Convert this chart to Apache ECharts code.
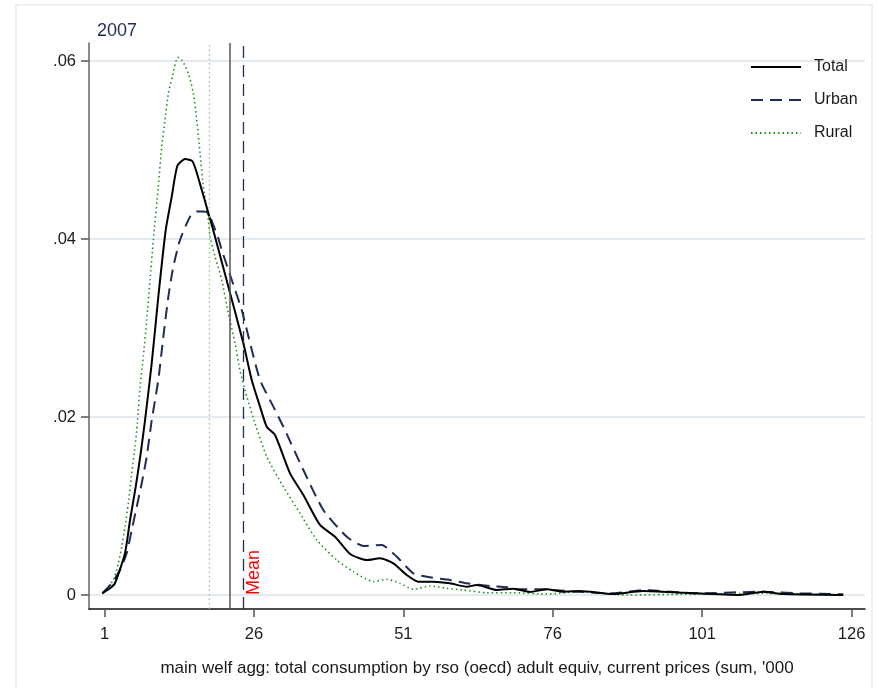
<!DOCTYPE html>
<html>
<head>
<meta charset="utf-8">
<script src="https://cdn.jsdelivr.net/npm/echarts@6/dist/echarts.min.js"></script>
<style>
  html, body { margin: 0; padding: 0; background: #fff; }
  #chart { width: 877px; height: 688px; }
</style>
</head>
<body>
<div id="chart"></div>
<script>
const xTicks = [1, 26, 51, 76, 101, 126]
const yTicks = [0, 0.02, 0.04, 0.06]
const seriesNames = ['Total', 'Urban', 'Rural']

const xTotal = [0.63, 1.92, 2.76, 4.43, 5.27, 6.22, 7.06, 7.78, 8.90, 10.0, 11.24, 12.24, 13.18, 14.47, 15.76, 17.27, 18.37, 19.49, 21.72, 24.23, 25.63, 27.02, 28.14, 29.53, 32.04, 34.27, 37.06, 39.57, 42.08, 44.88, 47.10, 49.33, 51.57, 53.51, 56.02, 58.81, 61.61, 63.28, 66.63, 69.36, 72.2, 75.0, 77.77, 80.57, 86.09, 91.11, 97.8, 107.3, 111.2, 114.5, 124.6]
const yTotal = [0.00019, 0.00075, 0.00135, 0.00472, 0.00843, 0.01217, 0.01596, 0.01966, 0.02607, 0.03352, 0.04101, 0.04475, 0.0482, 0.04899, 0.04869, 0.04551, 0.04292, 0.04026, 0.03464, 0.02828, 0.02416, 0.02116, 0.01891, 0.01798, 0.01367, 0.01124, 0.00787, 0.00655, 0.00461, 0.00393, 0.00412, 0.00356, 0.00225, 0.0015, 0.0015, 0.00131, 0.00093, 0.00112, 0.00056, 0.00071, 0.00034, 0.00064, 0.00037, 0.00045, 0.00011, 0.00045, 0.00026, 0, 0.00037, 0.00011, 0]

const xUrban = [0.63, 2.20, 3.59, 4.71, 5.55, 6.39, 7.22, 8.06, 8.90, 10.0, 10.84, 11.68, 12.51, 13.63, 15.31, 16.43, 17.53, 18.37, 19.21, 20.04, 20.61, 22.29, 23.96, 25.35, 27.02, 29.25, 30.92, 34.27, 37.61, 41.53, 44.31, 47.39, 49.90, 52.67, 55.47, 58.81, 61.61, 65.51, 68.30, 70.53, 73.87, 77.77, 80.0, 86.14, 91.16, 93.40, 100.6, 111.24, 117.4, 124.6]
const yUrban = [0.00019, 0.00131, 0.00281, 0.00469, 0.0073, 0.00992, 0.01255, 0.01554, 0.01966, 0.02416, 0.02902, 0.03352, 0.03689, 0.03989, 0.04251, 0.04309, 0.04309, 0.04289, 0.04157, 0.04008, 0.03876, 0.03539, 0.03202, 0.02831, 0.02416, 0.02116, 0.01891, 0.01404, 0.00955, 0.00655, 0.00551, 0.00562, 0.0043, 0.00244, 0.00199, 0.00169, 0.00131, 0.00101, 0.00087, 0.00064, 0.00064, 0.00048, 0.00037, 0.00019, 0.00056, 0.00048, 0.00019, 0.00037, 0.00019, 0.00008]

const xRural = [0.63, 2.47, 3.31, 3.88, 4.43, 4.98, 5.55, 6.10, 6.49, 6.94, 7.49, 8.06, 8.61, 9.17, 10.0, 10.57, 11.12, 11.68, 12.35, 13.25, 14.02, 15.02, 15.86, 16.43, 16.98, 17.53, 18.37, 18.65, 19.49, 20.61, 21.72, 22.84, 23.67, 24.80, 26.18, 28.14, 30.92, 33.71, 36.51, 39.86, 42.63, 45.98, 48.22, 50.43, 52.67, 55.47, 58.26, 61.04, 64.96, 69.41, 75.0, 80.57, 88.38, 100.6, 111.8, 124.6]
const yRural = [0.00019, 0.00169, 0.00356, 0.00543, 0.00767, 0.0103, 0.01367, 0.01666, 0.0193, 0.0234, 0.02678, 0.0309, 0.03539, 0.03989, 0.04588, 0.05037, 0.05337, 0.05637, 0.05824, 0.0604, 0.06003, 0.05862, 0.05637, 0.05337, 0.04963, 0.04588, 0.04213, 0.04026, 0.03801, 0.03539, 0.03165, 0.02828, 0.0252, 0.02229, 0.01929, 0.01554, 0.01217, 0.00918, 0.00618, 0.00393, 0.00262, 0.0015, 0.00176, 0.00131, 0.00064, 0.00101, 0.00075, 0.00056, 0.00026, 0.00026, 0.00011, 0.00037, 0, 0.00011, 0.00019, 0]

// mean of each group, drawn as vertical reference lines
const meanRural = 18.44
const meanTotal = 21.88
const meanUrban = 24.29

const FONT = '"Liberation Sans", Arial, sans-serif'
const navy = '#1f2d56'
const green = '#1f8f1f'

const zip = (xs, ys) => xs.map((x, i) => [x, ys[i]])

function vline(value, style, label) {
  return {
    silent: true,
    symbol: 'none',
    animation: false,
    lineStyle: style,
    label: label || { show: false },
    data: [{ xAxis: value }]
  }
}

const chart = echarts.init(document.getElementById('chart'))

chart.setOption({
  animation: false,
  backgroundColor: '#fff',
  textStyle: { fontFamily: FONT },
  title: {
    text: '2007',
    left: 92,
    top: 17,
    textStyle: { fontSize: 18, fontWeight: 'normal', color: navy, fontFamily: FONT }
  },
  legend: {
    data: seriesNames,
    orient: 'vertical',
    left: 745,
    top: 54,
    itemWidth: 50,
    itemHeight: 14,
    itemGap: 17,
    itemStyle: { opacity: 0 },
    textStyle: { fontSize: 16, color: '#1a1a1a', fontFamily: FONT, padding: [0, 0, 0, 8] }
  },
  graphic: [
    {
      type: 'rect',
      silent: true,
      shape: { x: 16, y: 5, width: 856, height: 720 },
      style: { fill: 'none', stroke: '#e3ebf1', lineWidth: 1.5 }
    }
  ],
  grid: { left: 89, right: 12, top: 43, bottom: 79 },
  xAxis: {
    type: 'value',
    min: -1.6,
    max: 128.25,
    name: "main welf agg: total consumption by rso (oecd) adult equiv, current prices (sum, '000",
    nameLocation: 'middle',
    nameGap: 51,
    nameTextStyle: { fontSize: 17, color: '#1a1a1a', fontFamily: FONT },
    axisLine: { show: true, onZero: false, lineStyle: { color: '#111', width: 1.5 } },
    axisTick: { show: true, customValues: xTicks, length: 8, lineStyle: { color: '#555', width: 1.5 } },
    axisLabel: { customValues: xTicks, fontSize: 16.5, color: '#1a1a1a', margin: 17, fontFamily: FONT },
    splitLine: { show: false }
  },
  yAxis: {
    type: 'value',
    min: -0.001573,
    max: 0.06202,
    axisLine: { show: true, onZero: false, lineStyle: { color: '#666', width: 1.5 } },
    axisTick: { show: true, customValues: yTicks, length: 8, lineStyle: { color: '#555', width: 1.5 } },
    axisLabel: {
      customValues: yTicks,
      fontSize: 16.5,
      color: '#1a1a1a',
      margin: 13,
      fontFamily: FONT,
      formatter: v => (v === 0 ? '0' : v.toFixed(2).replace(/^0/, ''))
    },
    splitLine: { show: true, lineStyle: { color: '#e3ebf1', width: 2 } }
  },
  series: [
    {
      name: 'Total',
      type: 'line',
      data: zip(xTotal, yTotal),
      symbol: 'none',
      smooth: 0.2,
      z: 4,
      itemStyle: { color: '#000' },
      lineStyle: { color: '#000', width: 2 },
      markLine: vline(meanTotal, { color: '#555', width: 1.5, type: 'solid' })
    },
    {
      name: 'Urban',
      type: 'line',
      data: zip(xUrban, yUrban),
      symbol: 'none',
      smooth: 0.2,
      z: 3,
      itemStyle: { color: navy },
      lineStyle: { color: navy, width: 2, type: [12, 7] },
      markLine: vline(meanUrban, { color: navy, width: 1.3, type: [12, 7] }, {
        show: true,
        formatter: 'Mean',
        position: 'insideStartBottom',
        distance: [14, 1],
        color: '#ff0000',
        fontSize: 18,
        fontFamily: FONT
      })
    },
    {
      name: 'Rural',
      type: 'line',
      data: zip(xRural, yRural),
      symbol: 'none',
      smooth: 0.2,
      z: 2,
      itemStyle: { color: green },
      lineStyle: { color: green, width: 1.6, type: [1.5, 3] },
      markLine: vline(meanRural, { color: '#8cc98c', width: 1.3, type: [1.5, 3] })
    }
  ]
})
</script>
</body>
</html>
